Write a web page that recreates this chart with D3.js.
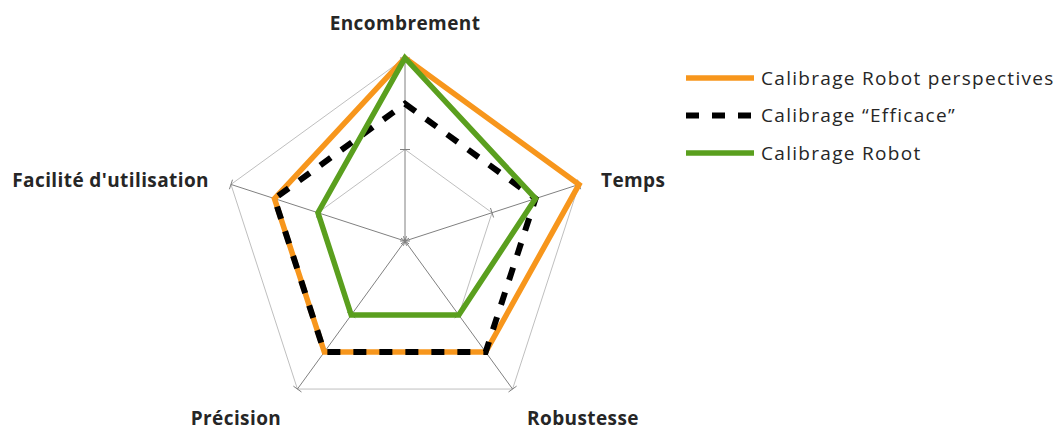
<!DOCTYPE html>
<html>
<head>
<meta charset="utf-8">
<script src="https://cdn.jsdelivr.net/npm/d3@7"></script>
<style>
  body { margin: 0; background: #fff; }
  text { font-family: "Open Sans", sans-serif; fill: #262626; }
</style>
</head>
<body>
<div id="vis"></div>
<script>
// chart size
var width = 1062;
var height = 432;

// axes of the radar, clockwise from the top
var axes = ["Encombrement", "Temps", "Robustesse", "Précision", "Facilité d'utilisation"];
var ticks = [0, 2, 4];

// series
var seriesNames = ["Calibrage Robot perspectives", "Calibrage \u201cEfficace\u201d", "Calibrage Robot"];
var perspectives = [4, 4, 3, 3, 3];
var efficace = [3, 3, 3, 3, 3];
var robot = [4, 3, 2, 2, 2];

var series = [
  {name: seriesNames[0], values: perspectives, color: "#F7961C", dash: null},
  {name: seriesNames[1], values: efficace, color: "#000000", dash: "13,13"},
  {name: seriesNames[2], values: robot, color: "#5A9F1E", dash: null}
];

var center = {x: 405, y: 241};
var r = d3.scaleLinear().domain([0, 4]).range([0, 183]);

function angle(i) {
  return -Math.PI / 2 + i * 2 * Math.PI / axes.length;
}
function pt(i, v) {
  var a = angle(i);
  return [center.x + r(v) * Math.cos(a), center.y + r(v) * Math.sin(a)];
}

var svg = d3.select("#vis").append("svg")
  .attr("width", width)
  .attr("height", height);

var g = svg.append("g");

// grid polygons (skip 0)
ticks.slice(1).forEach(function(t) {
  g.append("polygon")
    .attr("points", axes.map(function(d, i) { return pt(i, t).join(","); }).join(" "))
    .attr("fill", "none")
    .attr("stroke", "#BFBFBF")
    .attr("stroke-width", 1);
});

// spokes with tick marks
axes.forEach(function(d, i) {
  var end = pt(i, 4);
  g.append("line")
    .attr("x1", center.x).attr("y1", center.y)
    .attr("x2", end[0]).attr("y2", end[1])
    .attr("stroke", "#808080")
    .attr("stroke-width", 1);
  var a = angle(i);
  var px = -Math.sin(a), py = Math.cos(a);
  ticks.forEach(function(t) {
    var p = pt(i, t);
    g.append("line")
      .attr("x1", p[0] - px * 5).attr("y1", p[1] - py * 5)
      .attr("x2", p[0] + px * 5).attr("y2", p[1] + py * 5)
      .attr("stroke", "#808080")
      .attr("stroke-width", 1);
  });
});

// series lines
var line = d3.line().curve(d3.curveLinearClosed);
series.forEach(function(s) {
  g.append("path")
    .attr("d", line(s.values.map(function(v, i) { return pt(i, v); })))
    .attr("fill", "none")
    .attr("stroke", s.color)
    .attr("stroke-width", s.dash ? 6 : 5.5)
    .attr("stroke-linejoin", "miter")
    .attr("stroke-dasharray", s.dash);
});

// axis labels
var labelPos = [
  {x: 405, y: 30, anchor: "middle"},
  {x: 601, y: 187, anchor: "start"},
  {x: 583, y: 425, anchor: "middle"},
  {x: 236, y: 425, anchor: "middle"},
  {x: 209, y: 187, anchor: "end"}
];
svg.selectAll(".axis-label")
  .data(axes)
  .enter()
  .append("text")
  .attr("class", "axis-label")
  .attr("x", function(d, i) { return labelPos[i].x; })
  .attr("y", function(d, i) { return labelPos[i].y; })
  .attr("text-anchor", function(d, i) { return labelPos[i].anchor; })
  .style("font-size", "19px")
  .style("font-weight", "bold")
  .style("letter-spacing", "0.4px")
  .text(function(d) { return d; });

// legend
var legend = svg.append("g").attr("transform", "translate(686,78)");
series.forEach(function(s, i) {
  var y = i * 37.5;
  legend.append("line")
    .attr("x1", 0).attr("x2", 68)
    .attr("y1", y).attr("y2", y)
    .attr("stroke", s.color)
    .attr("stroke-width", s.dash ? 6 : 5.5)
    .attr("stroke-dasharray", s.dash);
  legend.append("text")
    .attr("x", 75)
    .attr("y", y + 6.5)
    .style("font-size", "19px")
    .style("letter-spacing", "1.3px")
    .text(s.name);
});
</script>
</body>
</html>
